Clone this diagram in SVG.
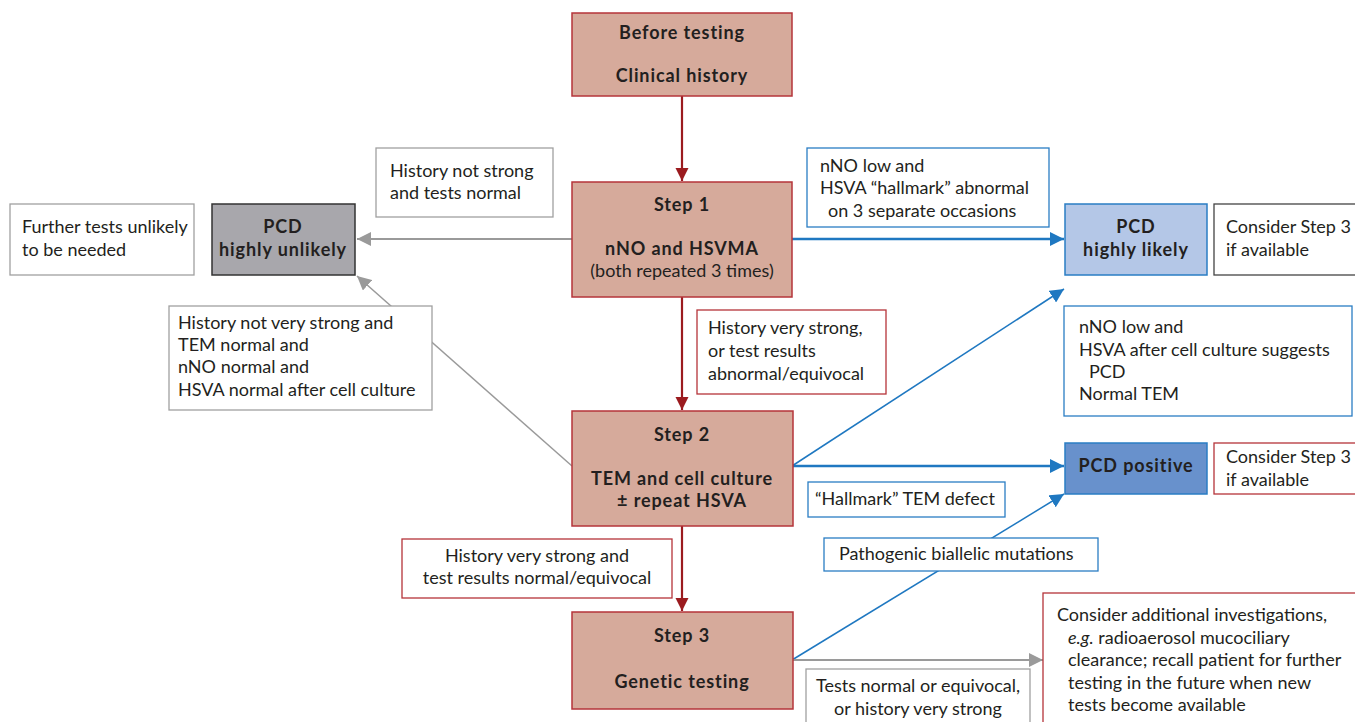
<svg xmlns="http://www.w3.org/2000/svg" width="1355" height="722" viewBox="0 0 1355 722">
<style>
text{font-family:Lato,"Open Sans","Liberation Sans",sans-serif;font-size:18px;fill:#231f20}
.b{font-weight:bold;letter-spacing:0.9px}
.c{text-anchor:middle}
.step{fill:#d6aa9b;stroke:#b5343a;stroke-width:1.5}
.wr{fill:#fff;stroke:#b5343a;stroke-width:1.3}
.wb{fill:#fff;stroke:#2a7dc4;stroke-width:1.3}
.wg{fill:#fff;stroke:#a0a0a0;stroke-width:1.3}
.wk{fill:#fff;stroke:#444;stroke-width:1.3}
.lr{stroke:#9b1b1f;stroke-width:2.2;fill:none}
.lb{stroke:#1f78c1;stroke-width:1.5;fill:none}
.lbt{stroke:#1f78c1;stroke-width:2.4;fill:none}
.lg{stroke:#9a9a9a;stroke-width:1.5;fill:none}
.lgt{stroke:#9a9a9a;stroke-width:2.2;fill:none}
</style>
<defs>
<marker id="ar" viewBox="0 0 10 10" refX="10" refY="5" markerWidth="6" markerHeight="6" markerUnits="strokeWidth" orient="auto"><path d="M0,0L10,5L0,10z" fill="#9b1b1f"/></marker>
<marker id="ab2" viewBox="0 0 10 10" refX="10" refY="5" markerWidth="14" markerHeight="14" markerUnits="userSpaceOnUse" orient="auto"><path d="M0,0L10,5L0,10z" fill="#1f78c1"/></marker>
<marker id="ag" viewBox="0 0 10 10" refX="10" refY="5" markerWidth="14" markerHeight="14" markerUnits="userSpaceOnUse" orient="auto"><path d="M0,0L10,5L0,10z" fill="#9a9a9a"/></marker>
</defs>
<g id="connectors">
<line class="lr" x1="682" y1="96" x2="682" y2="181" marker-end="url(#ar)"/>
<line class="lr" x1="682" y1="297" x2="682" y2="410" marker-end="url(#ar)"/>
<line class="lr" x1="682" y1="526" x2="682" y2="611" marker-end="url(#ar)"/>
<line class="lgt" x1="572" y1="239" x2="357" y2="239" marker-end="url(#ag)"/>
<line class="lg" x1="572" y1="466" x2="357" y2="276" marker-end="url(#ag)"/>
<line class="lbt" x1="792" y1="239" x2="1064" y2="239" marker-end="url(#ab2)"/>
<line class="lb" x1="792" y1="466" x2="1064" y2="289" marker-end="url(#ab2)"/>
<line class="lbt" x1="792" y1="466" x2="1064" y2="466" marker-end="url(#ab2)"/>
<line class="lb" x1="792" y1="660" x2="1064" y2="494" marker-end="url(#ab2)"/>
<line class="lgt" x1="792" y1="660" x2="1043" y2="660" marker-end="url(#ag)"/>
</g>
<g id="before"><rect class="step" x="572" y="13" width="220" height="83"/><text class="b c" x="682" y="39">Before testing</text><text class="b c" x="682" y="82">Clinical history</text></g>
<g id="step1"><rect class="step" x="572" y="182" width="220" height="115"/><text class="b c" x="682" y="211">Step 1</text><text class="b c" x="682" y="255">nNO and HSVMA</text><text class="c" x="682" y="277">(both repeated 3 times)</text></g>
<g id="step2"><rect class="step" x="572" y="411" width="221" height="115"/><text class="b c" x="682" y="441">Step 2</text><text class="b c" x="682" y="485">TEM and cell culture</text><text class="b c" x="682" y="507">± repeat HSVA</text></g>
<g id="step3"><rect class="step" x="572" y="612" width="221" height="97"/><text class="b c" x="682" y="642">Step 3</text><text class="b c" x="682" y="688">Genetic testing</text></g>
<g id="further"><rect class="wg" x="10" y="204" width="184" height="71"/><text x="22" y="233">Further tests unlikely</text><text x="22" y="256">to be needed</text></g>
<g id="pcd-unlikely"><rect x="212" y="204" width="143" height="71" fill="#a8a7ac" stroke="#333" stroke-width="1.5"/><text class="b c" x="283" y="233">PCD</text><text class="b c" x="283" y="256">highly unlikely</text></g>
<g id="hist-not-strong"><rect class="wg" x="376" y="148" width="177" height="69"/><text x="390" y="177">History not strong</text><text x="390" y="199">and tests normal</text></g>
<g id="hist-not-very"><rect class="wg" x="169" y="306" width="263" height="104"/><text x="178" y="329">History not very strong and</text><text x="178" y="351">TEM normal and</text><text x="178" y="373">nNO normal and</text><text x="178" y="396">HSVA normal after cell culture</text></g>
<g id="hist-very-strong"><rect class="wr" x="697" y="310" width="189" height="84"/><text x="708" y="334">History very strong,</text><text x="708" y="357">or test results</text><text x="708" y="380">abnormal/equivocal</text></g>
<g id="hist-very-strong2"><rect class="wr" x="402" y="539" width="270" height="59"/><text class="c" x="537" y="562">History very strong and</text><text class="c" x="537" y="584">test results normal/equivocal</text></g>
<g id="nno-low"><rect class="wb" x="807" y="148" width="242" height="79"/><text x="820" y="172">nNO low and</text><text x="820" y="194">HSVA “hallmark” abnormal</text><text x="828" y="217">on 3 separate occasions</text></g>
<g id="pcd-likely"><rect x="1065" y="204" width="142" height="71" fill="#b4c7e7" stroke="#2a7dc4" stroke-width="1.5"/><text class="b c" x="1136" y="233">PCD</text><text class="b c" x="1136" y="256">highly likely</text></g>
<g id="consider1"><rect class="wk" x="1214" y="204" width="145" height="71"/><text x="1226" y="233">Consider Step 3</text><text x="1226" y="256">if available</text></g>
<g id="nno-low2"><rect class="wb" x="1064" y="306" width="288" height="110"/><text x="1079" y="333">nNO  low and</text><text x="1079" y="356">HSVA after cell culture suggests</text><text x="1089" y="378">PCD</text><text x="1079" y="400">Normal TEM</text></g>
<g id="pcd-positive"><rect x="1065" y="443" width="142" height="51" fill="#6891cc" stroke="#2a7dc4" stroke-width="1.5"/><text class="b c" x="1136" y="472">PCD positive</text></g>
<g id="consider2"><rect class="wr" x="1214" y="443" width="145" height="51"/><text x="1226" y="463">Consider Step 3</text><text x="1226" y="486">if available</text></g>
<g id="hallmark"><rect class="wb" x="808" y="482" width="197" height="35"/><text x="815" y="505">“Hallmark” TEM defect</text></g>
<g id="pathogenic"><rect class="wb" x="824" y="538" width="274" height="33"/><text x="839" y="560">Pathogenic biallelic mutations</text></g>
<g id="tests-normal"><rect class="wg" x="806" y="669" width="224" height="60"/><text class="c" x="918" y="692">Tests normal or equivocal,</text><text class="c" x="918" y="715">or history very strong</text></g>
<g id="consider-additional"><rect class="wr" x="1043" y="593" width="320" height="140"/><text x="1057" y="621">Consider additional investigations,</text><text x="1068" y="644"><tspan font-style="italic">e.g.</tspan> radioaerosol mucociliary</text><text x="1068" y="666">clearance; recall patient for further</text><text x="1068" y="689">testing in the future when new</text><text x="1068" y="711">tests become available</text></g>
</svg>
